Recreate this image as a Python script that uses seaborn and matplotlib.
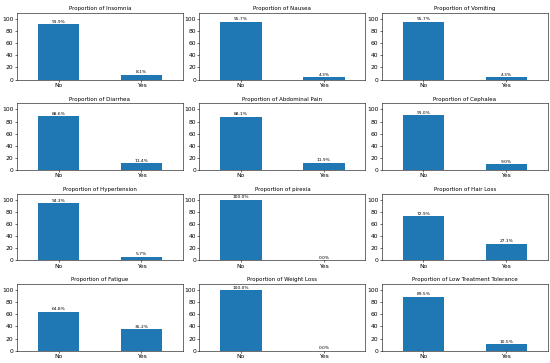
import matplotlib
matplotlib.use("Agg")
import matplotlib.pyplot as plt
import seaborn as sns
import pandas as pd

categories = ["No", "Yes"]
titles = ["Insomnia", "Nausea", "Vomiting", "Diarrhea", "Abdominal Pain", "Cephalea",
          "Hypertension", "pirexia", "Hair Loss", "Fatigue", "Weight Loss",
          "Low Treatment Tolerance"]
no_values = [91.9, 95.7, 95.7, 88.6, 88.1, 91.0, 94.3, 100.0, 72.9, 64.8, 100.0, 89.5]
yes_values = [8.1, 4.3, 4.3, 11.4, 11.9, 9.0, 5.7, 0.0, 27.1, 35.2, 0.0, 10.5]
y_ticks = [0, 20, 40, 60, 80, 100]

plt.rcParams['font.family'] = ['DejaVu Sans']

fig, axes = plt.subplots(4, 3, figsize=(5.5, 3.63), dpi=100)
fig.subplots_adjust(left=0.031, right=0.996, top=0.964, bottom=0.034,
                    wspace=0.1, hspace=0.36)

for ax, t, n, y in zip(axes.flat, titles, no_values, yes_values):
    df = pd.DataFrame({"cat": categories, "val": [n, y]})
    sns.barplot(data=df, x="cat", y="val", ax=ax, color="#1f77b4",
                saturation=1, width=0.5, linewidth=0)
    ax.set_ylim(0, 110)
    ax.set_yticks(y_ticks)
    ax.set_title(f"Proportion of {t}", fontsize=4, pad=2)
    ax.set_xlabel("")
    ax.set_ylabel("")
    ax.tick_params(axis="both", labelsize=4.3, length=1.5, width=0.4, pad=1)
    for s in ax.spines.values():
        s.set_linewidth(0.4)
        s.set_visible(True)
    ax.set_xlim(-0.5, 1.5)
    for c in ax.containers:
        ax.bar_label(c, labels=[f"{v:.1f}%" for v in c.datavalues],
                     fontsize=3.2, padding=0.3)

fig.savefig("out.png", dpi=100)
